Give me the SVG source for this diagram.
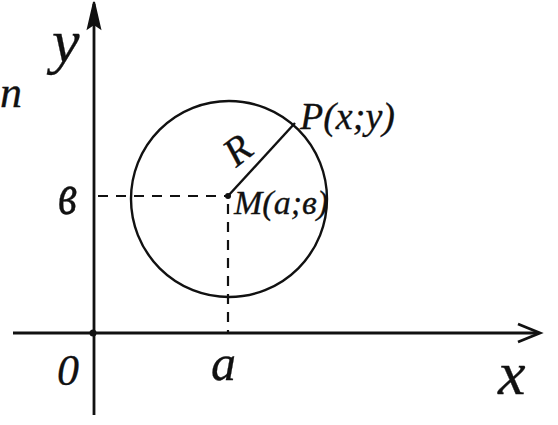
<svg xmlns="http://www.w3.org/2000/svg" width="558" height="425" viewBox="0 0 558 425">
<style>
.ax{stroke:#111;stroke-width:2.8;fill:none}
.ln{stroke:#111;stroke-width:2.4;fill:none}
.ds{stroke:#111;stroke-width:2.2;stroke-dasharray:10,8;fill:none}
.t{font-family:"Liberation Serif","DejaVu Serif",serif;font-style:italic;fill:#111;stroke:#111;stroke-width:0.3}
</style>
<rect width="558" height="425" fill="#fff"/>
<g id="connectors">
<line class="ax" x1="13" y1="333" x2="538" y2="333"/>
<polyline class="ax" points="518,324 540,333 518,342"/>
<line class="ax" x1="94" y1="415" x2="94" y2="4"/>
<polygon points="94,2 88,28 94,24 100,28" fill="#111" stroke="#111" stroke-width="2"/>
<line class="ds" x1="98" y1="196" x2="228" y2="196"/>
<line class="ds" x1="228" y1="204" x2="228" y2="333"/>
<line class="ln" x1="228" y1="196" x2="295" y2="123"/>
</g>
<g id="circle"><circle class="ln" cx="229" cy="199" r="98"/></g>
<g id="origin"><circle cx="93" cy="333" r="3.5" fill="#111"/><text class="t" x="57" y="385" font-size="44">0</text></g>
<g id="M"><circle cx="228" cy="196" r="3" fill="#111"/><text class="t" x="234" y="214" font-size="34">M(a;в)</text></g>
<g id="P"><text class="t" x="300" y="129" font-size="38">P(x;y)</text></g>
<g id="R"><text class="t" x="0" y="0" font-size="40" transform="translate(236,168) rotate(-38)">R</text></g>
<g id="labels">
<text class="t" x="52" y="62" font-size="62">y</text>
<text class="t" x="0" y="107" font-size="44">n</text>
<text class="t" font-size="40" transform="translate(58,214) scale(1.1,1.5)">в</text>
<text class="t" x="211" y="380" font-size="50">a</text>
<text class="t" x="498" y="394" font-size="62">x</text>
</g>
</svg>
